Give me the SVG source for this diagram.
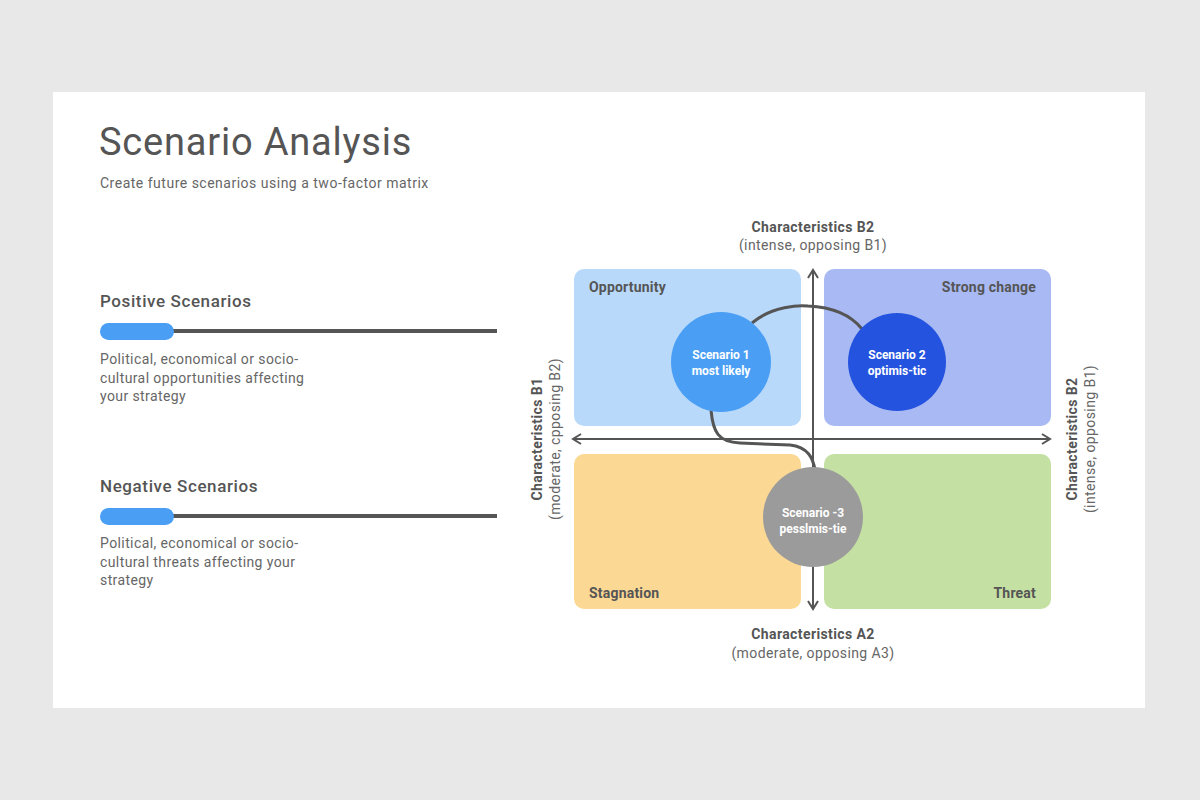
<svg xmlns="http://www.w3.org/2000/svg" width="1200" height="800" viewBox="0 0 1200 800">
<defs>
<style>
.t{font-family:Roboto,"Liberation Sans",sans-serif;fill:#555}
.title{font-size:38px;font-weight:400;letter-spacing:0.8px}
.sub{font-size:14px;fill:#666;letter-spacing:0.5px}
.h{font-size:17px;font-weight:500;letter-spacing:0.6px}
.body{font-size:14px;fill:#666;letter-spacing:0.4px}
.q{font-size:14px;font-weight:700;fill:#555;letter-spacing:0.2px}
.ax{font-size:14px;font-weight:700;fill:#555;letter-spacing:0.4px}
.axs{font-size:14px;fill:#666;letter-spacing:0.4px}
.c{font-size:12px;font-weight:700;fill:#fff}
.axis{stroke:#555;stroke-width:2;fill:none}
.conn{stroke:#555;stroke-width:3;fill:none}
</style>
<marker id="chev" viewBox="0 0 12 12" refX="10" refY="6" markerWidth="12" markerHeight="12" markerUnits="userSpaceOnUse" orient="auto-start-reverse">
<path d="M2,1 L10,6 L2,11" fill="none" stroke="#555" stroke-width="2"/>
</marker>
</defs>
<rect width="1200" height="800" fill="#e9e8e9"/>
<rect x="53" y="92" width="1092" height="616" fill="#fff"/>

<g id="header">
<text class="t title" x="99" y="155">Scenario Analysis</text>
<text class="t sub" x="100" y="188">Create future scenarios using a two-factor matrix</text>
</g>

<g id="positive">
<text class="t h" x="100" y="307">Positive Scenarios</text>
<line x1="170" y1="331" x2="497" y2="331" stroke="#555" stroke-width="4"/>
<rect x="100" y="323" width="74" height="17" rx="8.5" fill="#4a9ff5"/>
<text class="t body" x="100" y="364">Political, economical  or socio-</text>
<text class="t body" x="100" y="383">cultural opportunities  affecting</text>
<text class="t body" x="100" y="401">your strategy</text>
</g>

<g id="negative">
<text class="t h" x="100" y="492">Negative Scenarios</text>
<line x1="170" y1="516" x2="497" y2="516" stroke="#555" stroke-width="4"/>
<rect x="100" y="508" width="74" height="17" rx="8.5" fill="#4a9ff5"/>
<text class="t body" x="100" y="548">Political, economical  or socio-</text>
<text class="t body" x="100" y="567">cultural threats affecting your</text>
<text class="t body" x="100" y="585">strategy</text>
</g>

<g id="opportunity">
<rect x="574" y="269" width="227" height="157" rx="10" fill="#b9d9fb"/>
<text class="t q" x="589" y="292">Opportunity</text>
</g>
<g id="strong-change">
<rect x="824" y="269" width="227" height="157" rx="10" fill="#a8b9f3"/>
<text class="t q" x="1036" y="292" text-anchor="end">Strong  change</text>
</g>
<g id="stagnation">
<rect x="574" y="454" width="227" height="155" rx="10" fill="#fbd995"/>
<text class="t q" x="589" y="598">Stagnation</text>
</g>
<g id="threat">
<rect x="824" y="454" width="227" height="155" rx="10" fill="#c5e0a3"/>
<text class="t q" x="1036" y="598" text-anchor="end">Threat</text>
</g>

<g id="axes">
<line class="axis" x1="813" y1="270" x2="813" y2="609" marker-start="url(#chev)" marker-end="url(#chev)"/>
<line class="axis" x1="573" y1="439" x2="1050" y2="439" marker-start="url(#chev)" marker-end="url(#chev)"/>
</g>

<g id="axis-labels">
<text class="t ax" x="813" y="232" text-anchor="middle">Characteristics B2</text>
<text class="t axs" x="813" y="250" text-anchor="middle">(intense, opposing  B1)</text>
<text class="t ax" x="813" y="639" text-anchor="middle">Characteristics A2</text>
<text class="t axs" x="813" y="658" text-anchor="middle">(moderate, opposing  A3)</text>
<text class="t ax" transform="translate(542,439) rotate(-90)" text-anchor="middle">Characteristics B1</text>
<text class="t axs" transform="translate(560,439) rotate(-90)" text-anchor="middle">(moderate, cpposing B2)</text>
<text class="t ax" transform="translate(1077,439) rotate(-90)" text-anchor="middle">Characteristics B2</text>
<text class="t axs" transform="translate(1095,439) rotate(-90)" text-anchor="middle">(intense, opposing  B1)</text>
</g>

<g id="connectors">
<path class="conn" d="M752,323 C772,306 800,305 808,306 C830,307 850,314 862,329"/>
<path class="conn" d="M711,410 C713,432 718,442 740,443 L790,445 C808,447 813,458 815,470"/>
</g>

<g id="scenario-1">
<circle cx="721" cy="362" r="50" fill="#4a9ff5"/>
<text class="t c" x="721" y="359" text-anchor="middle">Scenario 1</text>
<text class="t c" x="721" y="375" text-anchor="middle">most likely</text>
</g>
<g id="scenario-2">
<circle cx="897" cy="362" r="49" fill="#2453e0"/>
<text class="t c" x="897" y="359" text-anchor="middle">Scenario 2</text>
<text class="t c" x="897" y="375" text-anchor="middle">optimis-tic</text>
</g>
<g id="scenario-3">
<circle cx="813" cy="517" r="50" fill="#9b9b9b"/>
<text class="t c" x="813" y="517" text-anchor="middle">Scenario -3</text>
<text class="t c" x="813" y="533" text-anchor="middle">pesslmis-tie</text>
</g>
</svg>
